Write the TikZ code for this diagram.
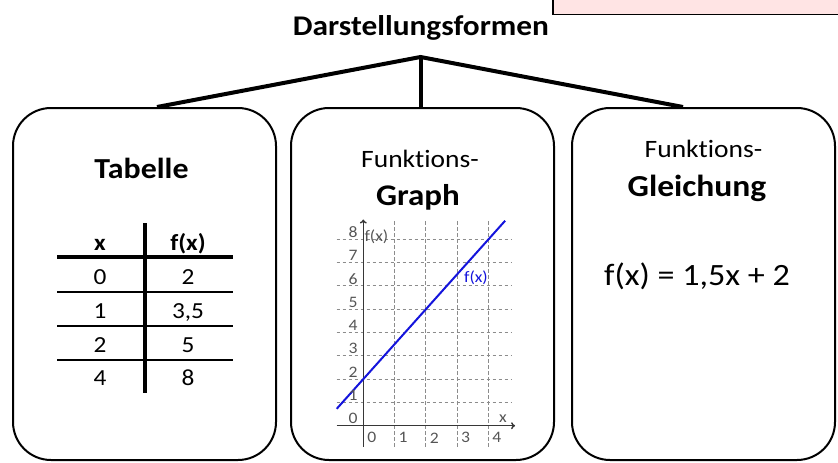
\documentclass[tikz,border=0pt]{standalone}
\usepackage{fontspec}
\setmainfont{Carlito}[FakeStretch=1.1, Ligatures=NoCommon]
\usetikzlibrary{calc,arrows.meta}
\definecolor{pinkfill}{RGB}{255,228,228}
\definecolor{gridgray}{RGB}{140,140,140}
\definecolor{axisgray}{RGB}{55,55,55}
\definecolor{labelgray}{RGB}{85,85,85}
\definecolor{fblue}{RGB}{20,20,220}
\newcommand{\fs}[1]{\fontsize{#1}{#1}\selectfont}
\tikzset{
  formbox/.style={draw, line width=2pt, rounded corners=38pt, minimum width=263pt, minimum height=352pt, inner sep=0pt},
  conn/.style={line width=4pt, line join=miter},
  txt/.style={inner sep=0pt, anchor=base},
  tline/.style={line width=2.3pt},
  gridl/.style={gridgray, dash pattern=on 3.5pt off 2.5pt, line width=0.9pt},
  axis/.style={axisgray, line width=1.4pt, -{To[length=4pt,width=7pt]}},
  glab/.style={inner sep=0pt, text=labelgray, font=\fs{16}},
}
\begin{document}
\begin{tikzpicture}[x=1pt,y=-1pt]
\useasboundingbox (0,0) rectangle (838,463);
% pink box at top right
\node[draw, line width=1.5pt, fill=pinkfill, minimum width=300pt, minimum height=30pt, inner sep=0pt, anchor=south west] (pink) at (552,15) {};
% title
\node[txt, font=\fs{28.5}\bfseries] (title) at (421,35) {Darstellungsformen};
% boxes
\node[formbox] (b1) at (144.5,284) {};
\node[formbox] (b2) at (422.5,284) {};
\node[formbox] (b3) at (703.5,284) {};
% connectors
\coordinate (apex) at (420.5,57);
\draw[conn] ($(b1.north)+(12.5,0)$) -- (apex) -- ($(b3.north)+(-20.5,0)$);
\draw[conn] (apex) -- (apex |- b2.north);
% box 1: table
\node[txt, font=\fs{29}\bfseries] (tab) at (141.5,178) {Tabelle};
\coordinate (vtop) at (145,223);
\coordinate (vbot) at (145,393);
\draw[line width=3.4pt] (vtop) -- (vbot);
\coordinate (h0l) at (57,257); \coordinate (h0r) at (233,257);
\draw[line width=4pt] (h0l) -- (h0r);
\coordinate (h1l) at (57,292); \coordinate (h1r) at (233,292);
\coordinate (h2l) at (57,326); \coordinate (h2r) at (233,326);
\coordinate (h3l) at (57,360); \coordinate (h3r) at (233,360);
\draw[tline] (h1l) -- (h1r);
\draw[tline] (h2l) -- (h2r);
\draw[tline] (h3l) -- (h3r);
\node[txt, font=\fs{23}\bfseries] (hx) at (100,250) {x};
\node[txt, font=\fs{23}\bfseries] (hf) at (188,250) {f(x)};
\node[txt, font=\fs{23}] (r1a) at (100,284.3) {0};
\node[txt, font=\fs{23}] (r1b) at (188,284.3) {2};
\node[txt, font=\fs{23}] (r2a) at (100,318) {1};
\node[txt, font=\fs{23}] (r2b) at (188,318) {3,5};
\node[txt, font=\fs{23}] (r3a) at (100,352) {2};
\node[txt, font=\fs{23}] (r3b) at (188,352) {5};
\node[txt, font=\fs{23}] (r4a) at (100,385.7) {4};
\node[txt, font=\fs{23}] (r4b) at (188,385.7) {8};
% box 2: graph
\node[txt, font=\fs{25}] (fk2) at (420,167) {Funktions-};
\node[txt, font=\fs{30}\bfseries] (gr) at (418,205) {Graph};
\begin{scope}[shift={(363.3,425.7)}, x=31.3pt, y=23.3pt]
  \foreach \k in {1,...,8} \draw[gridl] (-0.85,\k) -- (4.75,\k);
  \foreach \k in {1,...,4} \draw[gridl] (\k,-0.9) -- (\k,8.8);
  \draw[axis] (0,-0.9) -- (0,8.85);
  \draw[axis] (-0.85,0) -- (4.85,0);
  \draw[fblue, line width=2pt] (-0.85,0.725) -- (4.53,8.795);
  \foreach \k in {0,...,8} \node[glab] (yl\k) at (-0.33,\k+0.3) {\k};
  \foreach \k in {0,...,4} \node[glab] (xl\k) at (\k+0.27,-0.52) {\k};
  \node[glab] (fxl) at (0.42,8.1) {f(x)};
  \node[glab] (xlab) at (4.46,0.32) {x};
  \node[inner sep=0pt, text=fblue, font=\fs{16}] (fxb) at (3.6,6.33) {f(x)};
\end{scope}
% box 3: equation
\node[txt, font=\fs{25}] (fk3) at (703.5,157.3) {Funktions-};
\node[txt, font=\fs{30.5}\bfseries] (gl) at (697,196.7) {Gleichung};
\node[txt, font=\fs{31}] (eq) at (697,285.7) {f(x) = 1,5x + 2};
\end{tikzpicture}
\end{document}
